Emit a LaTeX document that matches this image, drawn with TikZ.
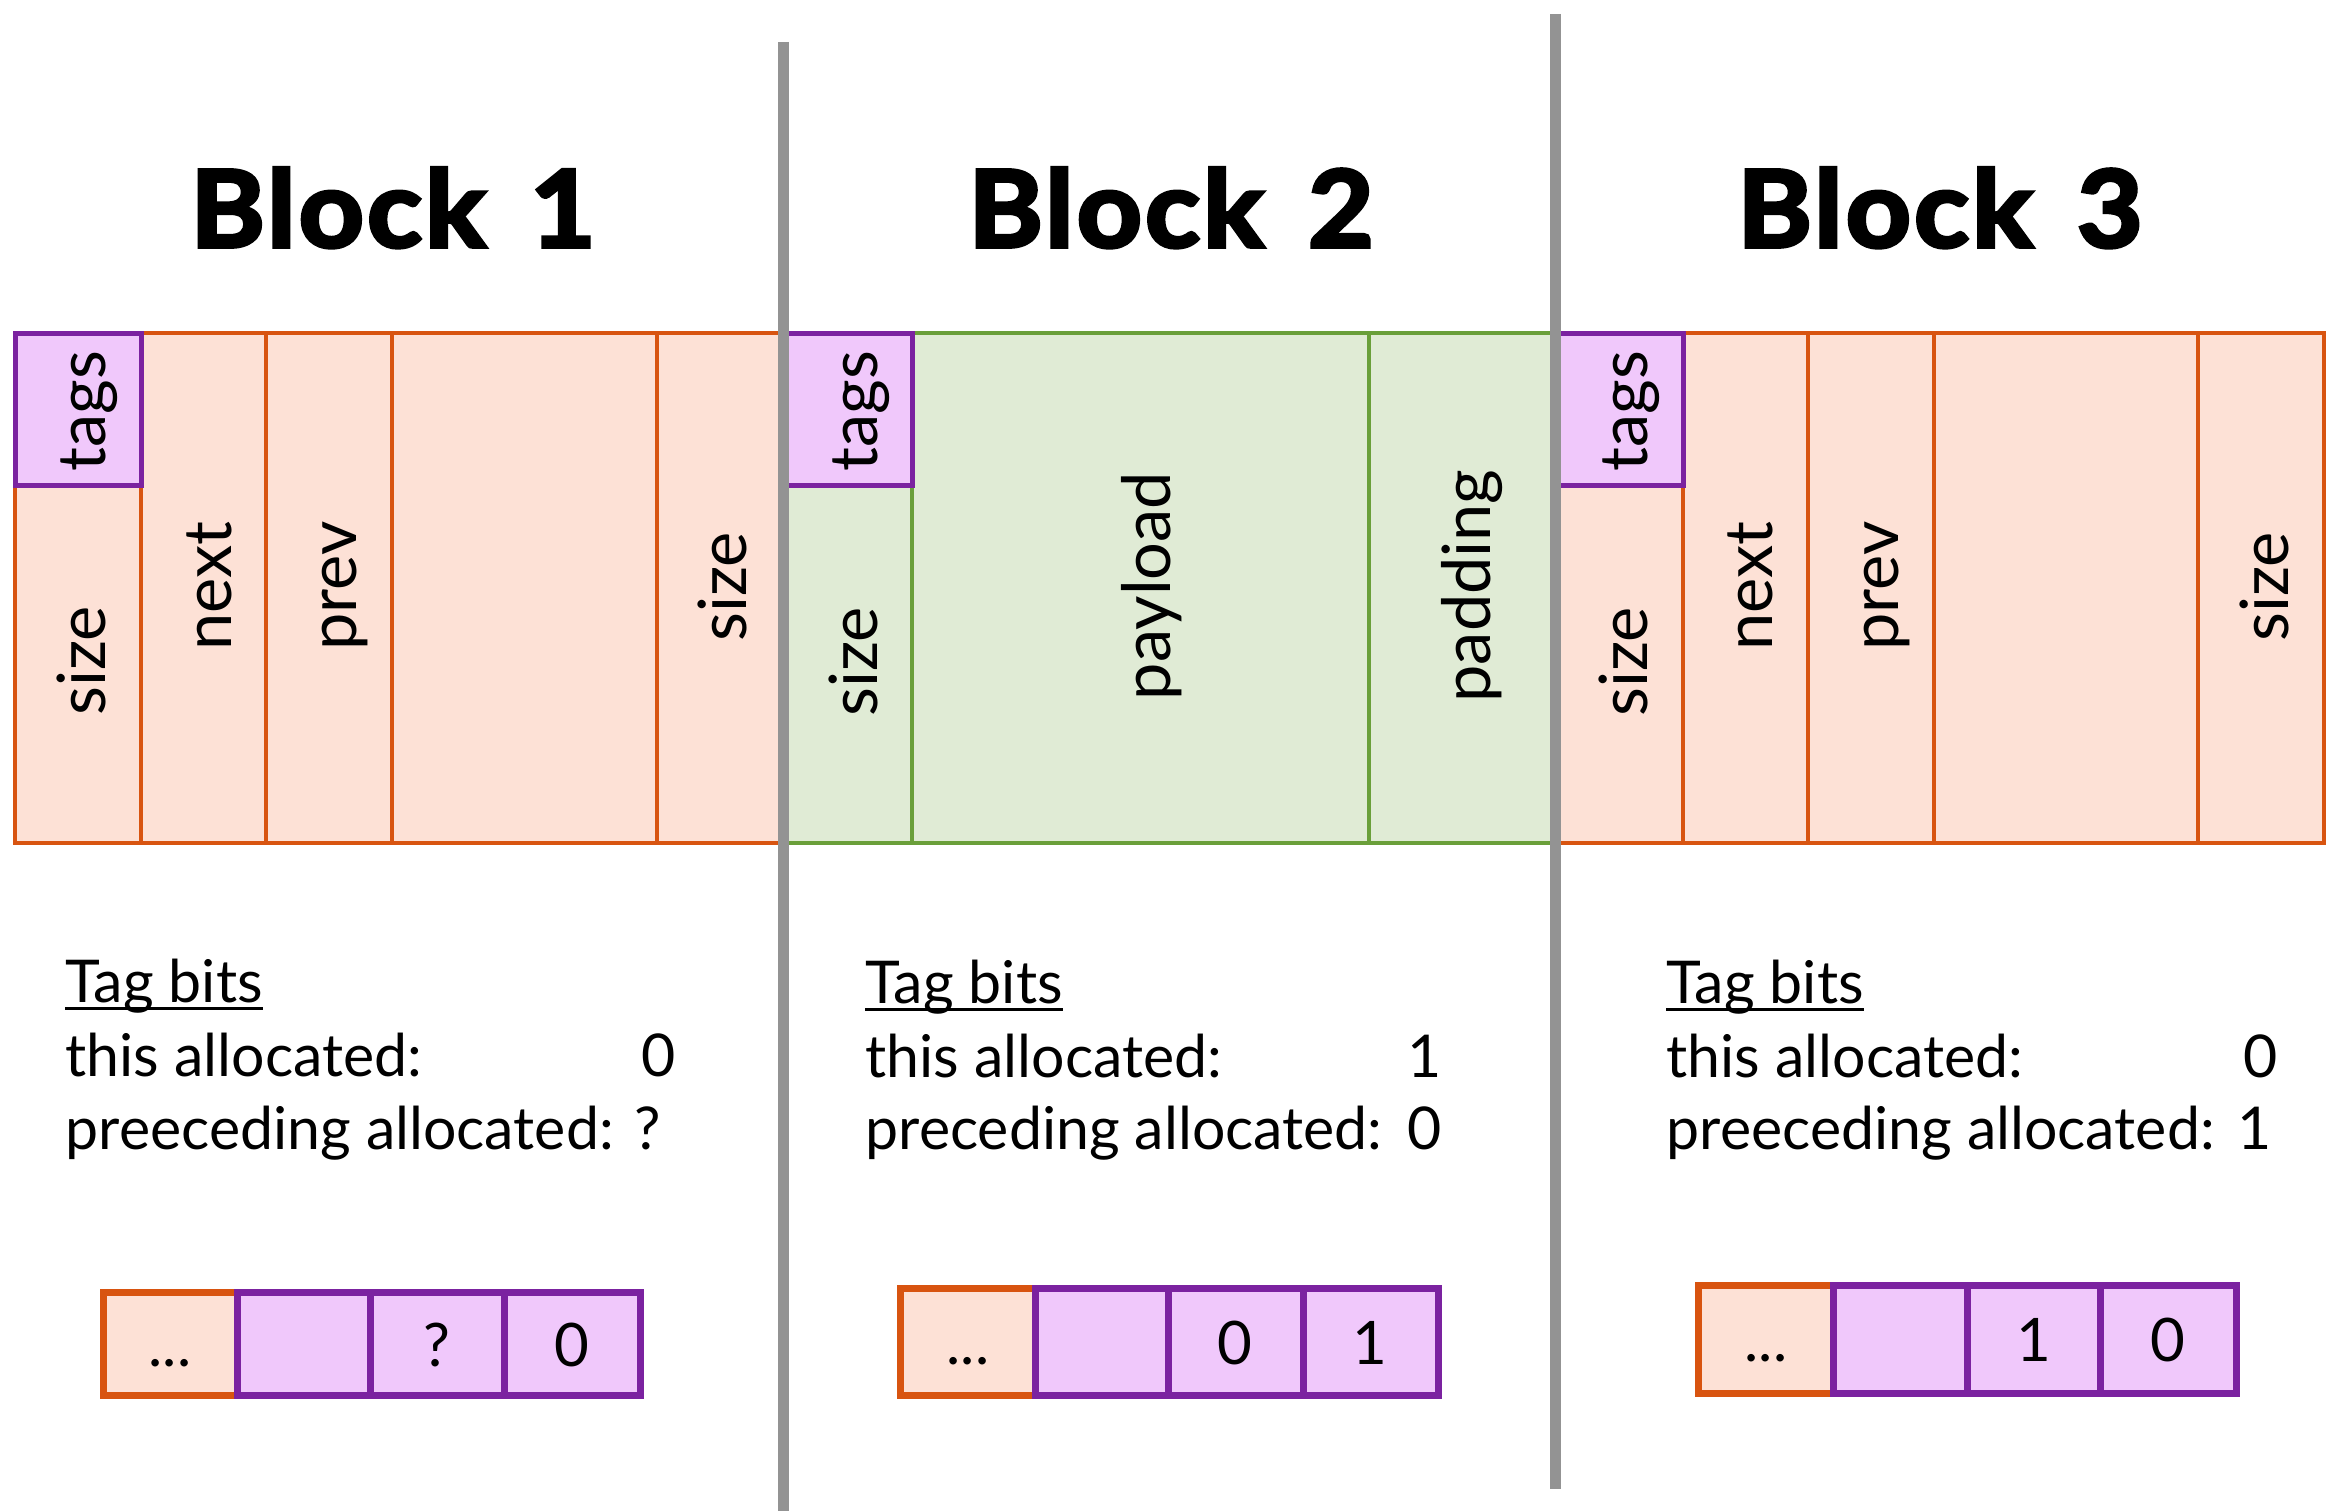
\documentclass[tikz,border=0pt]{standalone}
\usepackage{fontspec}
\setmainfont{Lato}
\newfontfamily\titlefont{Lato}[BoldFeatures={FakeBold=3.5, LetterSpace=3}]
\definecolor{freeedge}{HTML}{D85410}
\definecolor{freefill}{HTML}{FDE1D6}
\definecolor{tagedge}{HTML}{7B22A0}
\definecolor{tagfill}{HTML}{F0C8FB}
\definecolor{usededge}{HTML}{6A9F3A}
\definecolor{usedfill}{HTML}{E0EBD5}
\definecolor{divgray}{HTML}{939393}
\newcommand{\blockname}[1]{\scalebox{1.06}[1]{Block\hspace{0.12em} #1}}
\tikzset{
  freecell/.style={draw=freeedge, fill=freefill, line width=1.3pt},
  tagcell/.style={draw=tagedge, fill=tagfill, line width=1.5pt},
  usedcell/.style={draw=usededge, fill=usedfill, line width=1.2pt},
  bitfree/.style={draw=freeedge, fill=freefill, line width=2.1pt},
  bittag/.style={draw=tagedge, fill=tagfill, line width=2.1pt},
  divider/.style={draw=divgray, line width=3.3pt},
  field/.style={rotate=90, anchor=base, inner sep=0pt, font=\fontsize{20}{24}\selectfont},
  blocktitle/.style={anchor=base, inner sep=0pt, font=\titlefont\bfseries\fontsize{32}{38}\selectfont},
  info/.style={anchor=base west, inner sep=0pt, font=\fontsize{17.7}{22}\selectfont},
  infoval/.style={anchor=base, inner sep=0pt, font=\fontsize{17.7}{22}\selectfont},
  bitval/.style={anchor=base, inner sep=0pt, font=\fontsize{18}{22}\selectfont},
  uline/.style={line width=0.9pt}
}
\begin{document}
\begin{tikzpicture}[x=0.3pt, y=-0.3pt]
\useasboundingbox (0,0) rectangle (2334,1511);

% ---------- Block 1 (free) ----------
\path[freecell] (15,485) rectangle (141,843);
\path[freecell] (141,333) rectangle (266,843);
\path[freecell] (266,333) rectangle (392,843);
\path[freecell] (392,333) rectangle (657,843);
\path[freecell] (657,333) rectangle (783,843);
\path[tagcell] (15,333) rectangle (141,485);

% ---------- Block 2 (allocated) ----------
\path[usedcell] (783,485) rectangle (912,843);
\path[usedcell] (912,333) rectangle (1369,843);
\path[usedcell] (1369,333) rectangle (1555,843);
\path[tagcell] (783,333) rectangle (912,485);

% ---------- Block 3 (free) ----------
\path[freecell] (1557,485) rectangle (1683,843);
\path[freecell] (1683,333) rectangle (1808,843);
\path[freecell] (1808,333) rectangle (1934,843);
\path[freecell] (1934,333) rectangle (2198,843);
\path[freecell] (2198,333) rectangle (2324,843);
\path[tagcell] (1557,333) rectangle (1683,485);

% field labels
\node[field] (b1tags) at (105,411) {tags};
\node[field] (b1size) at (105,661) {size};
\node[field] (b1next) at (231,586) {next};
\node[field] (b1prev) at (356,586) {prev};
\node[field] (b1foot) at (746,587) {size};

\node[field] (b2tags) at (877,411) {tags};
\node[field] (b2size) at (877,662) {size};
\node[field] (b2load) at (1170,586) {payload};
\node[field] (b2pad)  at (1490,586) {padding};

\node[field] (b3tags) at (1647,411) {tags};
\node[field] (b3size) at (1647,662) {size};
\node[field] (b3next) at (1772,586) {next};
\node[field] (b3prev) at (1898,586) {prev};
\node[field] (b3foot) at (2288,587) {size};

% titles
\node[blocktitle] (t1) at (393,247) {\blockname{1}};
\node[blocktitle] (t2) at (1171,247) {\blockname{2}};
\node[blocktitle] (t3) at (1940,247) {\blockname{3}};

% tag bit descriptions
\node[info] (h1) at (65,1002) {Tag bits};
\draw[uline] ([yshift=-1.8pt]h1.base west) -- ([yshift=-1.8pt]h1.base east);
\node[info] (a1) at (65,1076) {this allocated:};
\node[info] (p1) at (65,1149) {preeceding allocated:};
\node[infoval] (a1v) at (659,1076) {0};
\node[infoval] (p1v) at (648,1149) {?};

\node[info] (h2) at (865,1003) {Tag bits};
\draw[uline] ([yshift=-1.8pt]h2.base west) -- ([yshift=-1.8pt]h2.base east);
\node[info] (a2) at (865,1077) {this allocated:};
\node[info] (p2) at (865,1149) {preceding allocated:};
\node[infoval] (a2v) at (1425,1077) {1};
\node[infoval] (p2v) at (1425,1149) {0};

\node[info] (h3) at (1666,1003) {Tag bits};
\draw[uline] ([yshift=-1.8pt]h3.base west) -- ([yshift=-1.8pt]h3.base east);
\node[info] (a3) at (1666,1077) {this allocated:};
\node[info] (p3) at (1666,1149) {preeceding allocated:};
\node[infoval] (a3v) at (2261,1077) {0};
\node[infoval] (p3v) at (2255,1149) {1};

% low-order bits of each header word
\path[bitfree] (103,1292) rectangle (237,1395);
\path[bittag] (237,1292) rectangle (370,1395);
\path[bittag] (370,1292) rectangle (504,1395);
\path[bittag] (504,1292) rectangle (640,1395);
\node[bitval] (w1d) at (170,1366) {...};
\node[bitval] (w1a) at (437,1366) {?};
\node[bitval] (w1b) at (572,1366) {0};

\path[bitfree] (900,1288) rectangle (1035,1395);
\path[bittag] (1035,1288) rectangle (1168,1395);
\path[bittag] (1168,1288) rectangle (1303,1395);
\path[bittag] (1303,1288) rectangle (1438,1395);
\node[bitval] (w2d) at (968,1364) {...};
\node[bitval] (w2a) at (1235,1364) {0};
\node[bitval] (w2b) at (1370,1364) {1};

\path[bitfree] (1698,1285) rectangle (1833,1393);
\path[bittag] (1833,1285) rectangle (1967,1393);
\path[bittag] (1967,1285) rectangle (2100,1393);
\path[bittag] (2100,1285) rectangle (2236,1393);
\node[bitval] (w3d) at (1766,1361) {...};
\node[bitval] (w3a) at (2034,1361) {1};
\node[bitval] (w3b) at (2168,1361) {0};

% block boundaries
\coordinate (s1top) at (783,42);
\coordinate (s1bot) at (783,1511);
\coordinate (s2top) at (1555,14);
\coordinate (s2bot) at (1555,1489);
\draw[divider] (s1top) -- (s1bot);
\draw[divider] (s2top) -- (s2bot);
\end{tikzpicture}
\end{document}
